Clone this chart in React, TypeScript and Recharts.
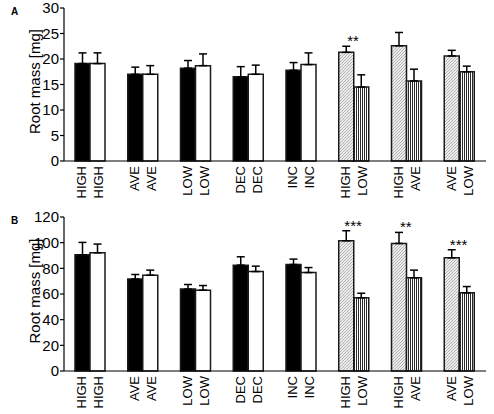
import React from 'react';
import { BarChart, Bar, XAxis, YAxis, ErrorBar, Cell, ReferenceDot, Label } from 'recharts';

// Category labels (two lines per group: soil treatment / second treatment)
const line1 = ['HIGH', 'AVE', 'LOW', 'DEC', 'INC', 'HIGH', 'HIGH', 'AVE'];
const line2 = ['HIGH', 'AVE', 'LOW', 'DEC', 'INC', 'LOW', 'AVE', 'LOW'];

// Panel A values (root mass, mg) and upward SE
const massA1 = [19.1, 17.0, 18.2, 16.5, 17.8, 21.3, 22.6, 20.6];
const errA1 = [2.1, 1.4, 1.5, 2.0, 1.5, 1.2, 2.6, 1.1];
const massA2 = [19.1, 17.0, 18.7, 17.0, 18.9, 14.5, 15.7, 17.5];
const errA2 = [2.1, 1.7, 2.3, 1.8, 2.3, 2.4, 2.3, 1.1];
const sigA = ['', '', '', '', '', '**', '', ''];
const ticksA = [0, 5, 10, 15, 20, 25, 30];

// Panel B values
const massB1 = [90.6, 71.6, 63.8, 82.5, 83.0, 101.5, 99.4, 88.2];
const errB1 = [9.6, 3.6, 3.6, 6.5, 4.2, 7.8, 8.6, 6.3];
const massB2 = [92.1, 74.7, 63.0, 77.5, 76.7, 57.0, 72.6, 60.9];
const errB2 = [6.8, 3.9, 3.6, 4.2, 3.9, 3.6, 6.0, 4.9];
const sigB = ['', '', '', '', '', '***', '**', '***'];
const ticksB = [0, 20, 40, 60, 80, 100, 120];

const MIXED_START = 5;
const FONT = '"Liberation Sans", Arial, Helvetica, sans-serif';

function buildData(v1: number[], e1: number[], v2: number[], e2: number[]) {
  return line1.map((l, i) => ({
    key: `${l}/${line2[i]}`,
    a: v1[i],
    ea: [0, e1[i]],
    b: v2[i],
    eb: [0, e2[i]],
  }));
}

const CategoryTick = (props: any) => {
  const { x, y, payload } = props;
  const [t1, t2] = String(payload.value).split('/');
  return (
    <g transform={`translate(${x},${y}) rotate(-90)`}>
      <text x={-5} y={-8.5} textAnchor="end" dominantBaseline="central" fontSize={13} fontFamily={FONT} fill="#000">
        {t1}
      </text>
      <text x={-5} y={8.5} textAnchor="end" dominantBaseline="central" fontSize={13} fontFamily={FONT} fill="#000">
        {t2}
      </text>
    </g>
  );
};

const YLabel = (props: any) => {
  const vb = props.viewBox || { x: 0, y: 0, width: 64, height: 154 };
  const cx = vb.x + 34;
  const cy = vb.y + vb.height / 2 - 3;
  return (
    <text
      x={cx}
      y={cy}
      transform={`rotate(-90 ${cx} ${cy})`}
      textAnchor="middle"
      dominantBaseline="central"
      fontSize={15}
      fontFamily={FONT}
      fill="#000"
    >
      Root mass [mg]
    </text>
  );
};

type PanelProps = {
  id: string;
  letter: string;
  top: number;
  height: number;
  xAxisHeight: number;
  v1: number[];
  e1: number[];
  v2: number[];
  e2: number[];
  sig: string[];
  ticks: number[];
};

const Panel = ({ id, letter, top, height, xAxisHeight, v1, e1, v2, e2, sig, ticks }: PanelProps) => {
  const data = buildData(v1, e1, v2, e2);
  const hatch = `hatch-${id}`;
  const vstripe = `vstripe-${id}`;
  return (
    <div style={{ position: 'absolute', left: 0, top, width: 494, height }}>
      <div
        style={{
          position: 'absolute',
          left: 11,
          top: 7,
          fontFamily: FONT,
          fontWeight: 'bold',
          fontSize: 10,
          lineHeight: '10px',
          color: '#000',
        }}
      >
        {letter}
      </div>
      <BarChart
        width={494}
        height={height}
        data={data}
        margin={{ top: 8, right: 8, bottom: 0, left: 0 }}
        barGap={0}
        barSize={15}
      >
        <defs>
          <pattern id={hatch} patternUnits="userSpaceOnUse" width={3} height={3}>
            <rect x={0} y={0} width={3} height={3} fill="#ececec" />
            <path d="M0,3 L3,0 M-1,1 L1,-1 M2,4 L4,2" stroke="#9a9a9a" strokeWidth={0.7} />
          </pattern>
          <pattern id={vstripe} patternUnits="userSpaceOnUse" width={2} height={4}>
            <rect x={0} y={0} width={2} height={4} fill="#ffffff" />
            <rect x={0} y={0} width={1} height={4} fill="#2a2a2a" />
          </pattern>
        </defs>
        <XAxis
          dataKey="key"
          height={xAxisHeight}
          tickLine={false}
          tickSize={0}
          tickMargin={0}
          axisLine={{ stroke: '#000', strokeWidth: 1.2 }}
          tick={<CategoryTick />}
          interval={0}
        />
        <YAxis
          width={64}
          domain={[ticks[0], ticks[ticks.length - 1]]}
          ticks={ticks}
          interval={0}
          tickSize={4}
          tickMargin={1}
          axisLine={{ stroke: '#000', strokeWidth: 1.2 }}
          tickLine={{ stroke: '#000', strokeWidth: 1.2 }}
          tick={{ fontSize: 15, fontFamily: FONT, fill: '#000' }}
        >
          <Label content={<YLabel />} />
        </YAxis>
        <Bar dataKey="a" isAnimationActive={false} stroke="#1a1a1a" strokeWidth={1.5}>
          {data.map((d, i) => (
            <Cell key={d.key} fill={i >= MIXED_START ? `url(#${hatch})` : '#000'} />
          ))}
          <ErrorBar dataKey="ea" width={4} stroke="#000" strokeWidth={1.5} direction="y" />
        </Bar>
        <Bar dataKey="b" isAnimationActive={false} stroke="#1a1a1a" strokeWidth={1.5}>
          {data.map((d, i) => (
            <Cell key={d.key} fill={i >= MIXED_START ? `url(#${vstripe})` : '#fff'} />
          ))}
          <ErrorBar dataKey="eb" width={4} stroke="#000" strokeWidth={1.5} direction="y" />
        </Bar>
        {data.map((d, i) =>
          sig[i] ? (
            <ReferenceDot
              key={`sig-${d.key}`}
              x={d.key}
              y={v1[i] + e1[i]}
              r={0}
              ifOverflow="visible"
              shape={(p: any) => (
                <text x={p.cx - 1} y={p.cy} textAnchor="middle" fontSize={15} fontFamily={FONT} fill="#000">
                  {sig[i]}
                </text>
              )}
            />
          ) : null
        )}
      </BarChart>
    </div>
  );
}

export default function App() {
  return (
    <div style={{ position: 'absolute', left: 0, top: 0, width: 494, height: 414, background: '#fff' }}>
      <Panel
        id="A"
        letter="A"
        top={0}
        height={205}
        xAxisHeight={44}
        v1={massA1}
        e1={errA1}
        v2={massA2}
        e2={errA2}
        sig={sigA}
        ticks={ticksA}
      />
      <Panel
        id="B"
        letter="B"
        top={209}
        height={205}
        xAxisHeight={43}
        v1={massB1}
        e1={errB1}
        v2={massB2}
        e2={errB2}
        sig={sigB}
        ticks={ticksB}
      />
    </div>
  );
}
